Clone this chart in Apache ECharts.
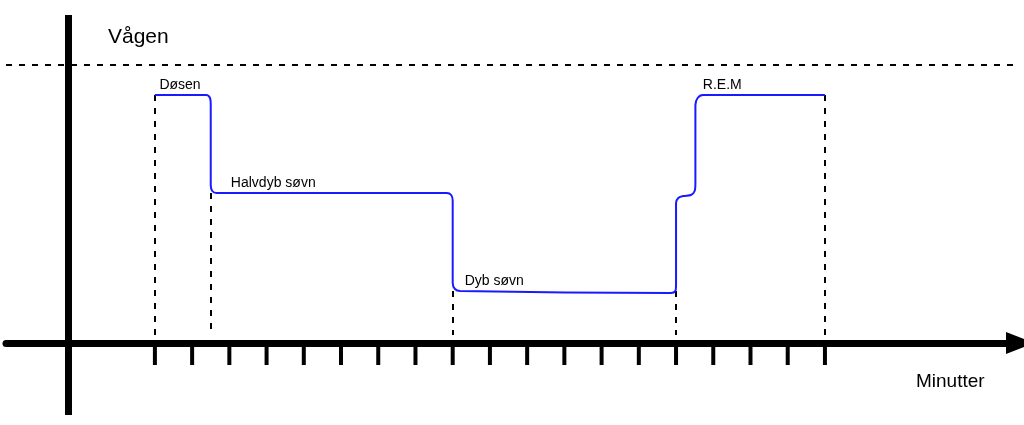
<!DOCTYPE html>
<html>
<head>
<meta charset="utf-8">
<script src="https://cdn.jsdelivr.net/npm/echarts@6/dist/echarts.min.js"></script>
<style>html,body{margin:0;padding:0;background:#fff}#chart{width:1024px;height:425px}</style>
</head>
<body>
<div id="chart"></div>
<script>
// søvnfaser (y = dybde-niveau, 0 = x-aksen)
const sleepLine = [
    [0, 248], [6.9, 248], [7.4, 245], [7.5, 238], [7.5, 158], [7.7, 152], [8.3, 150],
    [39.2, 150], [39.8, 148], [40, 142], [40, 60], [40.3, 54], [41, 52],
    [69.3, 50], [69.9, 52], [70, 58], [70, 140], [70.3, 145], [71, 147], [72, 148], [72.5, 152], [72.6, 160],
    [72.6, 238], [72.9, 245], [73.6, 248], [90, 248]
];
const tickValues  = [0, 5, 10, 15, 20, 25, 30, 35, 40, 45, 50, 55, 60, 65, 70, 75, 80, 85, 90];
const labelValues = [0, 10, 40, 70, 90];
const dropLines   = [[0, 248], [7.5, 150], [40, 52], [70, 52], [90, 248]];
const phaseLabels = [
    { name: 'Døsen', coord: [0.2, 248] },
    { name: 'Halvdyb søvn', coord: [9.8, 150] },
    { name: 'Dyb søvn', coord: [41.2, 52] },
    { name: 'R.E.M', coord: [73.2, 248] }
];
const awakeLevel = 278;

let chart = echarts.init(document.getElementById('chart'));
let option = {
    animation: false,
    grid: { left: 6, right: 4, top: 15, bottom: 10, outerBoundsMode: 'none', containLabel: false },
    xAxis: {
        type: 'value', min: -20, max: 116.2,
        interval: 5, splitLine: { show: false }, axisTick: { show: false },
        axisLine: { onZero: true, lineStyle: { color: '#000', width: 7 }, symbol: ['none', 'triangle'], symbolSize: [22, 28] },
        axisLabel: {
            showMinLabel: false, showMaxLabel: false,
            margin: 30, fontSize: 18, color: '#000', fontFamily: 'Liberation Sans',
            formatter: v => labelValues.includes(Math.round(v * 10) / 10) ? String(v) : ''
        }
    },
    yAxis: { type: 'value', min: -72, max: 328, show: false },
    graphic: [
        { type: 'text', left: 108, top: 27, style: { text: 'Vågen', fontSize: 21, fill: '#000', fontFamily: 'Liberation Sans' } },
        { type: 'text', left: 916, top: 372, style: { text: 'Minutter', fontSize: 19, fill: '#000', fontFamily: 'Liberation Sans' } }
    ],
    series: [
        {
            type: 'line', data: sleepLine, symbol: 'none', smooth: 0.3, z: 5,
            lineStyle: { color: '#1a1aff', width: 2 },
            markLine: {
                silent: true, symbol: 'none', label: { show: false },
                lineStyle: { color: '#000', type: [6, 7], width: 2 },
                data: [
                    [{ coord: [-20, awakeLevel] }, { coord: [116.2, awakeLevel] }],
                    ...dropLines.map(p => [{ coord: [p[0], p[1]] }, { coord: [p[0], 8] }])
                ]
            },
            markPoint: {
                symbol: 'circle', symbolSize: 0,
                label: { show: true, formatter: '{b}', position: 'right', offset: [-2, -10], color: '#000', fontSize: 14, fontFamily: 'Liberation Sans' },
                data: phaseLabels
            }
        },
        {
            // y-aksen
            type: 'line', data: [], markLine: {
                silent: true, symbol: 'none', label: { show: false },
                lineStyle: { color: '#000', type: 'solid', width: 7 },
                data: [{ xAxis: -11.7 }]
            }
        },
        {
            type: 'scatter', data: tickValues.map(v => [v, 0]),
            symbol: 'rect', symbolSize: [4, 22], symbolOffset: [0, 11],
            itemStyle: { color: '#000', opacity: 1 }, silent: true
        }
    ]
};
chart.setOption(option);
</script>
</body>
</html>
